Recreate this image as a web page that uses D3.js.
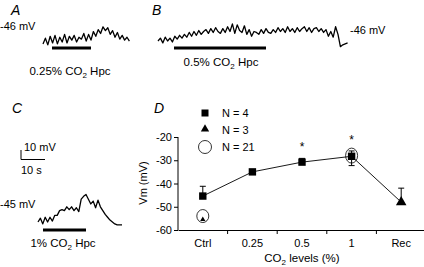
<!DOCTYPE html>
<html>
<head>
<meta charset="utf-8">
<script src="https://cdn.jsdelivr.net/npm/d3@7"></script>
<style>
  body { margin: 0; background: #fff; }
  text { font-family: "Liberation Sans", Arial, sans-serif; fill: #000; }
</style>
</head>
<body>
<svg id="mainsvg" width="424" height="267"></svg>
<script>
// traces, mV relative to resting level, sampled every second
const traceA = [-2, 4, -3, 6, -1, 7, -2, 5, 0, 8, -1, 6, 2, 7, 0, 5, 3, 9, 1, 8, 2, 11, 6, 13, 9, 16, 12, 15, 8, 12, 5, 10, 3, 7, 2, 5, 1];
const traceB = [0, 3, -2, 4, 0, 3, -1, 5,
  2, 6, 3, 7, 4, 9, 5, 10, 6, 11, 7, 10, 12, 8, 13,
  9, 14, 10, 8, 13, 9, 15, 10, 18, 8, 17, 11, 9, 16, 7, 12, 5, 10,
  9, 7, 12, 8, 13, 9, 8, 12, 9, 14, 10, 13, 9, 15, 10, 13, 9, 14, 10, 13, 15, 10, 14, 9, 13, 14, 10, 13, 9, 12,
  5, 10, 4, 15, 7, -6, -4, -3, -2];
const traceC = [0, 4, -2, 5, 0, 5, 1, 7, 7, 12, 13, 12, 16, 13, 16, 12, 15, 11, 24, 27, 29, 24, 19, 22, 15, 23, 16, 12, 8, 5, 2, 0, -2, -3, -3, -3];

// panel D
const categories = ["Ctrl", "0.25", "0.5", "1", "Rec"];
const yTicks = [-20, -30, -40, -50, -60];
const n4 = [
  {c: "Ctrl", v: -45.4, hi: -41.2, lo: -45.4},
  {c: "0.25", v: -35, hi: -34.4, lo: -35},
  {c: "0.5", v: -30.8, hi: -29.2, lo: -30.8},
  {c: "1", v: -28.3, hi: -26, lo: -32.3}
];
const n3 = [
  {c: "Ctrl", v: -55.5, hi: -55.5, lo: -55.5},
  {c: "Rec", v: -48, hi: -42, lo: -48}
];
const n21 = [
  {c: "Ctrl", v: -54},
  {c: "1", v: -28}
];
const stars = [{c: "0.5", v: -26}, {c: "1", v: -23}];
const legendItems = ["N = 4", "N = 3", "N = 21"];

const svg = d3.select('#mainsvg');

// ---- traces ----
const mv = 0.95, sec = 2.4; // px per mV, px per s
function drawTrace(data, x0, y0) {
  const x = d3.scaleLinear().domain([0, 1]).range([x0, x0 + sec]);
  const y = d3.scaleLinear().domain([0, 1]).range([y0, y0 - mv]);
  svg.append('path')
    .attr('d', d3.line().x((d, i) => x(i)).y(d => y(d))(data))
    .attr('fill', 'none').attr('stroke', '#000').attr('stroke-width', 1.3)
    .attr('stroke-linejoin', 'round');
}
function bar(x1, x2, y) {
  svg.append('line').attr('x1', x1).attr('x2', x2).attr('y1', y).attr('y2', y)
    .attr('stroke', '#000').attr('stroke-width', 3);
}
function co2Label(x, y, pre) {
  const t = svg.append('text').attr('x', x).attr('y', y).attr('font-size', 11.5).attr('text-anchor', 'middle');
  t.append('tspan').text(pre + ' CO');
  t.append('tspan').text('2').attr('font-size', 8).attr('dy', 3);
  t.append('tspan').text(' Hpc').attr('dy', -3);
}
function panelLabel(x, y, s) {
  svg.append('text').attr('x', x).attr('y', y).text(s)
    .attr('font-size', 14).attr('font-style', 'italic');
}

panelLabel(11, 15, 'A');
svg.append('text').attr('x', 0).attr('y', 30).attr('font-size', 11).text('-46 mV');
drawTrace(traceA, 43, 42);
bar(52, 91, 48);
co2Label(70, 75, '0.25%');

panelLabel(152, 15, 'B');
drawTrace(traceB, 158, 41);
bar(174, 266, 48);
co2Label(221, 66, '0.5%');
svg.append('text').attr('x', 350).attr('y', 34).attr('font-size', 11).text('-46 mV');

panelLabel(12, 113, 'C');
// scale bar
svg.append('path').attr('d', d3.line()([[21, 150], [21, 159.5], [45, 159.5]]))
  .attr('fill', 'none').attr('stroke', '#000').attr('stroke-width', 1);
svg.append('text').attr('x', 24).attr('y', 151).attr('font-size', 11).text('10 mV');
svg.append('text').attr('x', 21).attr('y', 174).attr('font-size', 11).text('10 s');
svg.append('text').attr('x', 0).attr('y', 208).attr('font-size', 11).text('-45 mV');
drawTrace(traceC, 38, 222);
bar(43, 86, 230);
co2Label(63, 247, '1%');

// ---- panel D ----
const x = d3.scaleBand().domain(categories).range([178, 426]).padding(0);
const y = d3.scaleLinear().domain([-60, -20]).range([230, 137]);
const cx = c => x(c) + x.bandwidth() / 2;

panelLabel(154, 113, 'D');

const yAxis = svg.append('g').attr('transform', 'translate(178,0)')
  .call(d3.axisLeft(y).tickValues(yTicks).tickSize(4).tickPadding(2).tickFormat(d => String(d)));
const xAxis = svg.append('g').attr('transform', 'translate(0,230)')
  .call(d3.axisBottom(x).tickSize(0).tickPadding(9));
[yAxis, xAxis].forEach(g => {
  g.selectAll('text').attr('font-size', 11).attr('font-family', '"Liberation Sans", Arial, sans-serif');
  g.select('.domain').attr('stroke-width', 1);
});
yAxis.select('.domain').attr('d', 'M0,137V230');
// category boundary ticks
xAxis.selectAll('.bound').data(categories.slice(1)).join('line')
  .attr('x1', d => x(d)).attr('x2', d => x(d)).attr('y1', 0).attr('y2', 4)
  .attr('stroke', '#000');

svg.append('text').attr('transform', 'translate(147,183) rotate(-90)')
  .attr('text-anchor', 'middle').attr('font-size', 11).text('Vm (mV)');
const xt = svg.append('text').attr('x', 302).attr('y', 262).attr('text-anchor', 'middle').attr('font-size', 11.5);
xt.append('tspan').text('CO');
xt.append('tspan').text('2').attr('font-size', 8).attr('dy', 3);
xt.append('tspan').text(' levels (%)').attr('dy', -3);

// connecting line: N=4 means then Rec
const lineData = n4.concat(n3.filter(d => d.c === 'Rec'));
svg.append('path')
  .attr('d', d3.line().x(d => cx(d.c)).y(d => y(d.v))(lineData))
  .attr('fill', 'none').attr('stroke', '#000').attr('stroke-width', 0.9);

// error bars
const errs = n4.concat(n3);
errs.forEach(d => {
  if (d.hi === d.lo) return;
  const g = svg.append('g').attr('stroke', '#000').attr('stroke-width', 1);
  g.append('line').attr('x1', cx(d.c)).attr('x2', cx(d.c)).attr('y1', y(d.hi)).attr('y2', y(d.lo));
  g.append('line').attr('x1', cx(d.c) - 3).attr('x2', cx(d.c) + 3).attr('y1', y(d.hi)).attr('y2', y(d.hi));
  if (d.lo < d.v) g.append('line').attr('x1', cx(d.c) - 3).attr('x2', cx(d.c) + 3).attr('y1', y(d.lo)).attr('y2', y(d.lo));
});

// circles (N=21)
svg.selectAll('.c21').data(n21).join('ellipse')
  .attr('cx', d => cx(d.c)).attr('cy', d => y(d.v))
  .attr('rx', 6).attr('ry', (d, i) => i ? 7.5 : 6.5)
  .attr('fill', 'none').attr('stroke', '#000').attr('stroke-width', 0.8);

// squares (N=4)
svg.selectAll('.sq').data(n4).join('rect')
  .attr('x', d => cx(d.c) - 3.7).attr('y', d => y(d.v) - 3.7)
  .attr('width', 7.4).attr('height', 7.4).attr('fill', '#000');

// triangles (N=3)
svg.selectAll('.tri').data(n3).join('path')
  .attr('d', (d, i) => d3.symbol(d3.symbolTriangle, i ? 48 : 12)())
  .attr('transform', d => `translate(${cx(d.c)},${y(d.v)})`)
  .attr('fill', '#000');

// stars
svg.selectAll('.star').data(stars).join('text')
  .attr('x', d => cx(d.c)).attr('y', d => y(d.v)).attr('text-anchor', 'middle')
  .attr('font-size', 12).text('*');

// legend
const leg = svg.append('g');
leg.append('rect').attr('x', 201.5).attr('y', 109.5).attr('width', 7).attr('height', 7).attr('fill', '#000');
leg.append('path').attr('d', d3.symbol(d3.symbolTriangle, 30)()).attr('transform', 'translate(205,129)').attr('fill', '#000');
leg.append('circle').attr('cx', 205).attr('cy', 147).attr('r', 6.5).attr('fill', 'none').attr('stroke', '#000').attr('stroke-width', 0.8);
leg.selectAll('text').data(legendItems).join('text')
  .attr('x', 222).attr('y', (d, i) => 117 + i * 17).attr('font-size', 11).text(d => d);
</script>
</body>
</html>
